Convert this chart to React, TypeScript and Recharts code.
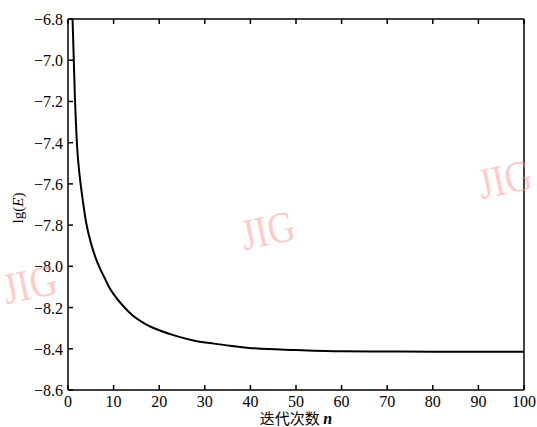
import { LineChart, Line, XAxis, YAxis } from "recharts";

// iterations n and lg(E)
const iterations = [1, 1.5, 2, 2.5, 3, 4, 5, 6, 7, 8, 9, 10, 12, 14, 17, 20, 24, 28, 32, 36, 41, 50, 60, 70, 80, 90, 100];
const lgE = [-6.8, -7.17, -7.42, -7.55, -7.64, -7.79, -7.885, -7.955, -8.01, -8.055, -8.1, -8.135, -8.19, -8.235, -8.28, -8.31, -8.34, -8.362, -8.375, -8.386, -8.398, -8.406, -8.412, -8.413, -8.414, -8.414, -8.414];
const xTicks = [0, 10, 20, 30, 40, 50, 60, 70, 80, 90, 100];
const yTicks = [-8.6, -8.4, -8.2, -8.0, -7.8, -7.6, -7.4, -7.2, -7.0, -6.8];
const watermarks = ["JIG", "JIG", "JIG"];

const data = iterations.map((n, i) => ({ n, v: lgE[i] }));

const W = 537;
const H = 427;
const LEFT = 68;
const RIGHT = 524;
const TOP = 19;
const BOTTOM = 390;
const TICK = 5;
const FONT = '"Liberation Serif", "Times New Roman", serif';

const fmtY = (v: number) => (v < 0 ? "\u2212" + Math.abs(v).toFixed(1) : v.toFixed(1));

const BottomTick = (p: any) => (
  <g>
    <line x1={p.x} x2={p.x} y1={BOTTOM} y2={BOTTOM - TICK} stroke="#000" strokeWidth={1.5} />
    <text x={p.x} y={BOTTOM + 17} textAnchor="middle" fontSize={16} fontFamily={FONT} fill="#000">
      {p.payload.value}
    </text>
  </g>
);

const TopTick = (p: any) => (
  <line x1={p.x} x2={p.x} y1={TOP} y2={TOP + TICK} stroke="#000" strokeWidth={1.5} />
);

const LeftTick = (p: any) => (
  <g>
    <line x1={LEFT} x2={LEFT + TICK} y1={p.y} y2={p.y} stroke="#000" strokeWidth={1.5} />
    <text x={LEFT - 5} y={p.y + 6} textAnchor="end" fontSize={16} fontFamily={FONT} fill="#000">
      {fmtY(p.payload.value)}
    </text>
  </g>
);

const RightTick = (p: any) => (
  <line x1={RIGHT} x2={RIGHT - TICK} y1={p.y} y2={p.y} stroke="#000" strokeWidth={1.5} />
);

const XTitle = () => (
  <text x={296} y={424} textAnchor="middle" fontSize={15} fill="#000">
    <tspan fontFamily='"Noto Sans CJK SC", sans-serif'>迭代次数 </tspan>
    <tspan fontFamily={FONT} fontStyle="italic" fontWeight="bold" fontSize={16}>n</tspan>
  </text>
);

const YTitle = () => (
  <text x={0} y={0} transform="translate(23,208) rotate(-90)" textAnchor="middle" fontSize={15} fontFamily={FONT} fill="#000">
    lg(<tspan fontStyle="italic">E</tspan>)
  </text>
);

const wmPos = [
  { left: -2, top: 263 },
  { left: 236, top: 209 },
  { left: 473, top: 158 },
];

export default function App() {
  return (
    <div style={{ position: "absolute", left: 0, top: 0, width: W, height: H, background: "#fff" }}>
      <LineChart width={W} height={H} data={data} margin={{ top: TOP - 1, right: W - RIGHT - 1, bottom: H - BOTTOM - 30, left: 8 }}>
        <XAxis
          dataKey="n"
          type="number"
          domain={[0, 100]}
          ticks={xTicks}
          interval={0}
          height={30}
          axisLine={{ stroke: "#000", strokeWidth: 1.5 }}
          tickLine={false}
          tick={BottomTick}
          label={<XTitle />}
        />
        <XAxis
          xAxisId="top"
          orientation="top"
          dataKey="n"
          type="number"
          domain={[0, 100]}
          ticks={xTicks}
          interval={0}
          height={1}
          axisLine={{ stroke: "#000", strokeWidth: 1.5 }}
          tickLine={false}
          tick={TopTick}
        />
        <YAxis
          type="number"
          domain={[-8.6, -6.8]}
          ticks={yTicks}
          interval={0}
          width={60}
          axisLine={{ stroke: "#000", strokeWidth: 1.5 }}
          tickLine={false}
          tick={LeftTick}
          label={<YTitle />}
        />
        <YAxis
          yAxisId="right"
          orientation="right"
          type="number"
          domain={[-8.6, -6.8]}
          ticks={yTicks}
          interval={0}
          width={1}
          axisLine={{ stroke: "#000", strokeWidth: 1.5 }}
          tickLine={false}
          tick={RightTick}
        />
        <Line type="monotone" dataKey="v" stroke="#000" strokeWidth={2} dot={false} isAnimationActive={false} />
      </LineChart>
      {watermarks.map((w, i) => (
        <div
          key={i}
          style={{
            position: "absolute",
            left: wmPos[i].left,
            top: wmPos[i].top,
            fontFamily: FONT,
            fontSize: 44,
            color: "rgba(255, 150, 150, 0.5)",
            transform: "rotate(-12deg) scaleX(0.85)",
            transformOrigin: "center center",
            pointerEvents: "none",
            lineHeight: 1,
          }}
        >
          {w}
        </div>
      ))}
    </div>
  );
}
